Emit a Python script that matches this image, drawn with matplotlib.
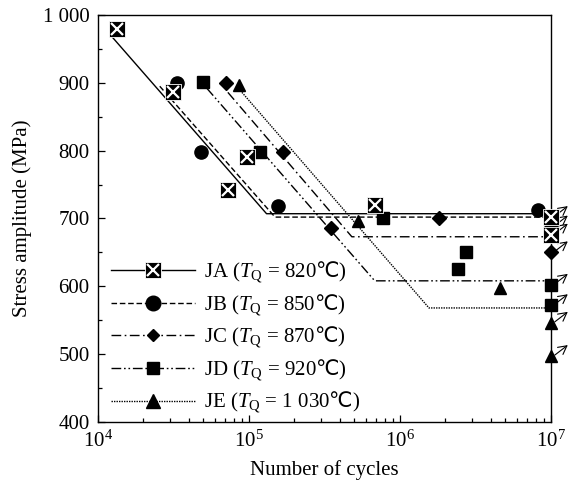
import matplotlib
matplotlib.use("Agg")
import matplotlib.pyplot as plt
import matplotlib.transforms as mtransforms
from matplotlib.legend_handler import HandlerTuple
from matplotlib.lines import Line2D
from matplotlib.ticker import FixedLocator, LogLocator, NullFormatter

plt.rcParams["font.family"] = ["Liberation Serif", "DejaVu Serif"]
plt.rcParams["mathtext.fontset"] = "custom"
plt.rcParams["mathtext.rm"] = "Liberation Serif"
plt.rcParams["mathtext.it"] = "Liberation Serif:italic"
plt.rcParams["mathtext.sf"] = "Noto Sans CJK SC"
plt.rcParams["mathtext.fallback"] = "stix"

# measured points (cycles, stress amplitude MPa)
ja_n = [1.34e4, 3.14e4, 7.26e4, 9.7e4, 6.9e5, 1e7, 1e7]
ja_s = [979, 886, 742, 790, 720, 702, 676]
jb_n = [3.34e4, 4.8e4, 1.56e5, 8.2e6]
jb_s = [900, 798, 718, 712]
jc_n = [7.1e4, 1.68e5, 3.5e5, 1.81e6, 1e7, 1e7]
jc_s = [900, 798, 686, 700, 688, 650]
jd_n = [4.96e4, 1.18e5, 7.7e5, 2.73e6, 2.42e6, 1e7, 1e7]
jd_s = [901, 798, 700, 650, 625, 602, 572]
je_n = [8.6e4, 5.25e5, 4.6e6, 1e7, 1e7]
je_s = [897, 696, 597, 546, 497]

# fitted S-N lines: start, knee, end
ja_fit_n = [1.24e4, 1.31e5, 1e7]
ja_fit_s = [968, 707, 707]
jb_fit_n = [2.57e4, 1.49e5, 1e7]
jb_fit_s = [895, 702, 702]
jc_fit_n = [7.26e4, 4.81e5, 1e7]
jc_fit_s = [886, 673, 673]
jd_fit_n = [5.27e4, 6.82e5, 1e7]
jd_fit_s = [892, 608, 608]
je_fit_n = [9.0e4, 1.56e6, 1e7]
je_fit_s = [886, 568, 568]

# run-outs (no failure) marked with arrows
runout_s = [702, 688, 676, 650, 602, 572, 546, 497]

deg = r"$\mathsf{℃}$"
labels = [
    r"JA ($T_{\rm Q}$ = 820" + deg + ")",
    r"JB ($T_{\rm Q}$ = 850" + deg + ")",
    r"JC ($T_{\rm Q}$ = 870" + deg + ")",
    r"JD ($T_{\rm Q}$ = 920" + deg + ")",
    r"JE ($T_{\rm Q}$ = 1 030" + deg + ")",
]

fig = plt.figure(figsize=(5.69, 4.86), dpi=100)
ax = fig.add_axes([0.172, 0.132, 0.796, 0.837])

lw = 1.0
styles = {
    "JA": "-",
    "JB": (0, (4, 2)),
    "JC": (0, (7, 2.5, 1.2, 2.5)),
    "JD": (0, (7, 2, 1.2, 2, 1.2, 2)),
    "JE": (0, (1, 0.8)),
}

ax.plot(ja_fit_n, ja_fit_s, color="black", lw=lw, ls=styles["JA"])
ax.plot(jb_fit_n, jb_fit_s, color="black", lw=lw, ls=styles["JB"])
ax.plot(jc_fit_n, jc_fit_s, color="black", lw=lw, ls=styles["JC"])
ax.plot(jd_fit_n, jd_fit_s, color="black", lw=lw, ls=styles["JD"])
ax.plot(je_fit_n, je_fit_s, color="black", lw=lw, ls=styles["JE"])

mk = dict(ls="none", color="black", clip_on=False, zorder=4)
ax.plot(jb_n, jb_s, marker="o", ms=9.5, **mk)
ax.plot(jc_n, jc_s, marker="D", ms=7.5, **mk)
ax.plot(jd_n, jd_s, marker="s", ms=8, **mk)
ax.plot(je_n, je_s, marker="^", ms=9, **mk)
ax.plot(ja_n, ja_s, marker="s", ms=11, mec="white", mew=0.6, ls="none",
        color="black", clip_on=False, zorder=5)
ax.plot(ja_n, ja_s, marker="x", ms=9, mew=1.6, color="white", ls="none",
        clip_on=False, zorder=6)

for s in runout_s:
    tail = mtransforms.offset_copy(ax.transData, fig, x=4, y=1, units="dots")
    head = mtransforms.offset_copy(ax.transData, fig, x=17, y=11, units="dots")
    ax.annotate("", xy=(1e7, s), xycoords=head, xytext=(1e7, s), textcoords=tail,
                arrowprops=dict(arrowstyle="->,head_length=0.6,head_width=0.32",
                                lw=0.8, color="black", shrinkA=0, shrinkB=0),
                annotation_clip=False)

ax.set_xscale("log")
ax.set_xlim(1e4, 1e7)
ax.set_ylim(400, 1000)
ax.xaxis.set_major_locator(FixedLocator([1e4, 1e5, 1e6, 1e7]))
ax.xaxis.set_minor_locator(LogLocator(base=10, subs=range(2, 10), numticks=20))
ax.xaxis.set_minor_formatter(NullFormatter())
ax.set_xticklabels([r"$10^{4}$", r"$10^{5}$", r"$10^{6}$", r"$10^{7}$"])
ax.set_yticks([400, 500, 600, 700, 800, 900, 1000])
ax.set_yticklabels(["400", "500", "600", "700", "800", "900", "1 000"])
ax.yaxis.set_minor_locator(FixedLocator([450, 550, 650, 750, 850, 950]))
ax.tick_params(which="both", direction="in", top=False, right=False,
               labelsize=15, width=0.9)
ax.tick_params(which="major", length=5, pad=6)
ax.tick_params(which="minor", length=3)
for sp in ax.spines.values():
    sp.set_linewidth(1.0)

ax.set_xlabel("Number of cycles", fontsize=15, labelpad=6)
ax.set_ylabel("Stress amplitude (MPa)", fontsize=15, labelpad=8)

# legend handles
h_ja = (Line2D([], [], color="black", lw=lw, ls=styles["JA"], marker="s", ms=11,
               mec="white", mew=0.6),
        Line2D([], [], ls="none", marker="x", ms=9, mew=1.6, color="white"))
h_jb = Line2D([], [], color="black", lw=lw, ls=styles["JB"], marker="o", ms=10.5)
h_jc = Line2D([], [], color="black", lw=lw, ls=styles["JC"], marker="D", ms=6)
h_jd = Line2D([], [], color="black", lw=lw, ls=styles["JD"], marker="s", ms=8)
h_je = Line2D([], [], color="black", lw=lw, ls=styles["JE"], marker="^", ms=9.5)

ax.legend([h_ja, h_jb, h_jc, h_jd, h_je], labels,
          handler_map={tuple: HandlerTuple(ndivide=1, pad=0)},
          loc="lower left", bbox_to_anchor=(0.03, 0.016), frameon=False,
          fontsize=15, handlelength=4.0, handletextpad=0.45, labelspacing=0.32,
          borderpad=0, borderaxespad=0)

fig.savefig("out.png", dpi=100)
